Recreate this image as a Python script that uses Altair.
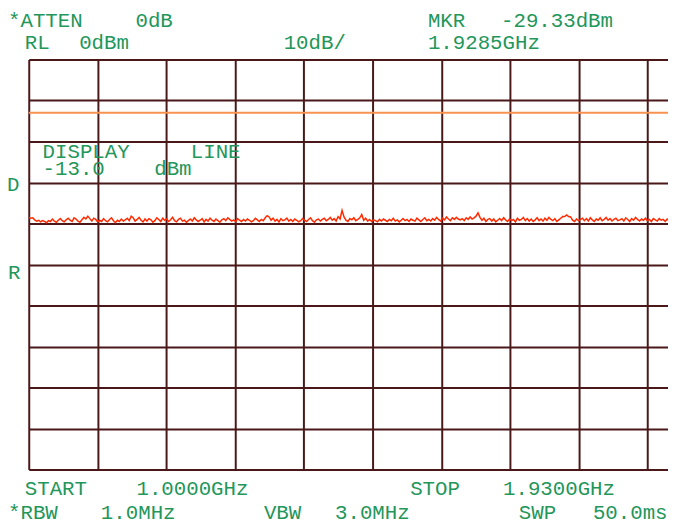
import altair as alt
import numpy as np
import pandas as pd

# ---- data -------------------------------------------------------------
START_GHZ = 1.0000
STOP_GHZ = 1.9300
REF_LEVEL_DBM = 0
DB_PER_DIV = 10
DISPLAY_LINE_DBM = -13.0

# trace amplitude (dBm), evenly spaced from START to STOP
trace_dbm = [
    -38.5, -38.7, -38.6, -39.1, -39.4, -39.2, -39.6, -39.3, -39.5, -39.8,
    -39.3, -39.5, -38.9, -39.4, -39.7, -39.2, -38.8, -39.3, -39.6, -39.1,
    -38.7, -39.2, -39.5, -38.6, -38.9, -39.4, -39.7, -39.1, -38.5, -38.9,
    -38.2, -38.8, -39.4, -38.7, -39.0, -39.6, -39.2, -39.5, -38.8, -39.3,
    -39.6, -39.0, -38.6, -39.3, -39.8, -39.2, -39.5, -38.9, -39.4, -39.1,
    -38.7, -39.3, -38.2, -38.6, -39.4, -39.0, -38.5, -39.2, -39.6, -38.9,
    -39.4, -38.8, -39.1, -39.7, -39.3, -38.6, -39.0, -39.5, -38.7, -39.2,
    -38.9, -39.5, -39.1, -38.5, -39.3, -39.6, -39.0, -38.7, -39.4, -39.2,
    -39.7, -39.3, -38.9, -39.4, -38.6, -39.1, -39.5, -39.2, -38.8, -39.6,
    -39.0, -39.4, -38.7, -39.2, -39.5, -38.9, -39.3, -39.7, -39.1, -38.8,
    -39.3, -38.6, -39.0, -39.4, -39.1, -39.6, -38.8, -39.2, -39.5, -39.0,
    -39.4, -38.9, -39.2, -39.6, -39.3, -38.7, -39.1, -39.5, -39.0, -39.3,
    -38.6, -38.1, -38.4, -39.2, -38.7, -39.4, -39.0, -39.6, -38.8, -39.3,
    -39.1, -38.7, -39.4, -39.0, -39.5, -38.9, -39.2, -39.6, -39.3, -38.8,
    -39.2, -39.5, -39.0, -38.6, -39.3, -39.7, -39.1, -38.9, -39.4, -39.0,
    -38.7, -39.3, -39.0, -38.5, -39.2, -38.8, -39.4, -38.3, -38.9, -36.8,
    -38.4, -39.2, -39.5, -38.8, -39.1, -38.6, -39.3, -39.0, -38.6, -37.8,
    -39.2, -38.7, -39.4, -39.0, -39.5, -39.1, -39.3, -39.6, -39.0, -39.4,
    -38.9, -39.2, -39.5, -39.0, -39.3, -38.7, -39.4, -39.1, -39.6, -39.2,
    -38.8, -39.3, -39.0, -39.5, -38.9, -39.2, -39.4, -38.7, -39.1, -39.5,
    -39.0, -38.6, -39.3, -39.0, -39.4, -38.8, -39.2, -38.5, -39.0, -39.4,
    -38.7, -39.1, -38.4, -38.9, -39.3, -38.6, -39.0, -38.5, -38.9, -39.1,
    -38.8, -39.3, -38.6, -39.0, -38.4, -38.9, -38.6, -38.2, -37.4, -38.5,
    -39.2, -38.7, -39.5, -39.0, -38.8, -39.4, -38.9, -39.6, -39.2, -38.8,
    -39.3, -38.6, -39.1, -39.5, -38.9, -39.3, -39.0, -39.6, -38.7, -39.2,
    -39.0, -38.5, -39.3, -38.8, -39.4, -38.9, -39.5, -39.1, -38.6, -39.3,
    -38.9, -39.4, -38.7, -39.2, -38.5, -39.0, -39.3, -38.8, -39.5, -39.1,
    -38.7, -38.3, -38.3, -37.9, -38.3, -38.4, -39.2, -39.5, -38.9, -39.3,
    -39.0, -38.7, -39.3, -38.8, -39.4, -38.6, -39.1, -39.5, -38.9, -39.2,
    -38.6, -39.3, -39.0, -38.5, -39.2, -38.8, -39.4, -39.0, -38.7, -39.3,
    -39.1, -38.8, -39.4, -38.6, -39.0, -39.5, -38.8, -39.2, -38.5, -39.0,
    -39.4, -38.9, -39.2, -38.7, -39.3, -39.0, -39.5, -38.8, -39.1, -39.4,
    -38.8, -39.2, -39.0, -39.5, -38.9, -39.3, -38.6, -39.1, -39.4, -39.0,
    -39.2, -38.7, -39.3, -38.9, -39.5, -39.0, -38.8, -39.3, -39.1, -39.4,
    -39.0, -38.8, -39.3, -39.1, -39.4, -38.9, -39.2, -39.0, -39.3, -39.1,
]

# graticule positions
freq_grid_ghz = [1.000, 1.093, 1.186, 1.279, 1.372, 1.465, 1.558, 1.651, 1.744, 1.837]
level_grid_dbm = [0, -10, -20, -30, -40, -50, -60, -70, -80, -90, -100]

# annotation texts
ann_text = [
    "*ATTEN", "0dB", "RL", "0dBm", "10dB/", "MKR", "-29.33dBm", "1.9285GHz",
    "DISPLAY", "LINE", "-13.0", "dBm", "D", "R",
    "START", "1.0000GHz", "*RBW", "1.0MHz", "VBW", "3.0MHz",
    "STOP", "1.9300GHz", "SWP", "50.0ms",
]

# ---- layout (pixels relative to plot area) ---------------------------
ann_x = [-21, 108, -4, 51, 258, 404, 478, 404,
         14, 164, 14, 127, -22, -21,
         -4, 109, -21, 73, 238, 310,
         386, 480, 496, 571]
ann_y = [-33, -33, -11, -11, -11, -33, -33, -11,
         100, 100, 117, 117, 133, 222,
         441, 441, 465, 465, 465, 465,
         441, 441, 465, 465]

VISIBLE_SPAN = (STOP_GHZ - START_GHZ) * 647 / 696
PLOT_W, PLOT_H = 647, 415
GREEN = "#23965a"
GRID = "#4a1818"
FONT = "Liberation Mono"

freqs = np.linspace(START_GHZ, STOP_GHZ, len(trace_dbm))
trace_df = pd.DataFrame({"freq": freqs, "level": trace_dbm})

xscale = alt.Scale(domain=[START_GHZ, START_GHZ + VISIBLE_SPAN], nice=False, zero=False)
yscale = alt.Scale(domain=[REF_LEVEL_DBM - 10 * DB_PER_DIV, REF_LEVEL_DBM], nice=False, zero=False)

xaxis = alt.Axis(values=freq_grid_ghz, grid=True, labels=False, ticks=False,
                 domain=False, title=None, gridColor=GRID, gridWidth=2, gridOpacity=1)
yaxis = alt.Axis(values=level_grid_dbm, grid=True, labels=False, ticks=False,
                 domain=False, title=None, gridColor=GRID, gridWidth=2, gridOpacity=1)

trace = alt.Chart(trace_df).mark_line(
    color="#ff2a00", strokeWidth=1.5, interpolate="linear", clip=True
).encode(
    x=alt.X("freq:Q", scale=xscale, axis=xaxis),
    y=alt.Y("level:Q", scale=yscale, axis=yaxis),
)

dline = alt.Chart(pd.DataFrame({"level": [DISPLAY_LINE_DBM]})).mark_rule(
    color="#f8924f", strokeWidth=2
).encode(y=alt.Y("level:Q", scale=yscale, axis=yaxis))

layers = [dline, trace]
for t, px, py in zip(ann_text, ann_x, ann_y):
    layers.append(
        alt.Chart(pd.DataFrame({"t": [t]})).mark_text(
            align="left", baseline="alphabetic", font=FONT, fontSize=21, color=GREEN
        ).encode(x=alt.value(px), y=alt.value(py), text="t:N")
    )

chart = alt.layer(*layers).properties(
    width=PLOT_W, height=PLOT_H,
    autosize="none",
    padding={"left": 21, "top": 49, "right": 0, "bottom": 54},
    background="white",
).configure_view(stroke=None)

chart.save("out.html", embed_options={"renderer": "svg", "actions": False})
